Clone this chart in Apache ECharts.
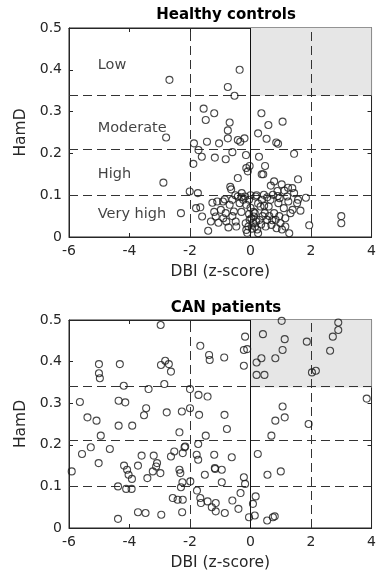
<!DOCTYPE html>
<html>
<head>
<meta charset="utf-8">
<script src="https://cdn.jsdelivr.net/npm/echarts@6/dist/echarts.min.js"></script>
<style>
  html, body { margin: 0; padding: 0; background: #fff; }
  #chart { width: 379px; height: 581px; }
</style>
</head>
<body>
<div id="chart"></div>
<script>
// HamD vs DBI, two panels
const panelTitles = ["Healthy controls", "CAN patients"];
const xTicks = [-6, 4, 2];      // min, max, interval
const yTicks = [0, 0.5, 0.1];
const hamdCuts = [0.102, 0.207, 0.338];
const dbiCuts = [-2, 2];
const shadeBox = [0, 0.338, 4, 0.5];
const zoneNames = ["Low", "Moderate", "High", "Very high"];
const zoneY = [0.41, 0.26, 0.15, 0.055];
const zoneX = -5.05;

const healthy = [
  [-2.68, 0.376], [-0.36, 0.40], [-0.75, 0.359], [-0.53, 0.338], [-1.55, 0.307],
  [-1.48, 0.28], [-1.2, 0.296], [-0.69, 0.274], [-2.79, 0.238], [-0.75, 0.255],
  [-0.75, 0.236], [-0.42, 0.232], [-0.34, 0.228], [-0.2, 0.236], [-1.87, 0.224],
  [-1.44, 0.228], [-1.04, 0.224], [-1.72, 0.208], [-1.61, 0.192], [-1.18, 0.19],
  [-0.82, 0.186], [-0.6, 0.203], [-0.15, 0.196], [-1.89, 0.175], [-0.42, 0.141],
  [-0.14, 0.165], [-0.03, 0.17], [-0.09, 0.157], [-2.88, 0.13], [0.36, 0.296],
  [0.59, 0.268], [1.06, 0.276], [0.25, 0.248], [0.53, 0.235], [0.85, 0.226],
  [0.91, 0.223], [1.44, 0.199], [0.28, 0.192], [0.48, 0.17], [0.37, 0.15],
  [0.42, 0.15], [1.57, 0.138], [0.78, 0.133], [1.03, 0.126], [1.24, 0.118],
  [1.38, 0.117], [0.67, 0.123], [0.89, 0.11], [1.12, 0.111], [3.0, 0.05],
  [3.0, 0.033], [1.94, 0.028], [1.83, 0.094], [1.65, 0.063], [1.57, 0.089],
  [1.54, 0.081], [-2.3, 0.057], [-2.01, 0.109], [-1.74, 0.105], [-1.8, 0.069],
  [-1.66, 0.071], [-1.6, 0.049], [-1.4, 0.015], [-1.31, 0.037], [-1.26, 0.082],
  [-1.15, 0.049], [-1.06, 0.034], [-0.98, 0.065], [-0.91, 0.085], [-0.82, 0.057],
  [-0.8, 0.037], [-0.73, 0.023], [-0.69, 0.077], [-0.67, 0.12], [-0.64, 0.114],
  [-0.6, 0.089], [-0.55, 0.061], [-0.49, 0.037], [-0.47, 0.025], [-0.42, 0.097],
  [-0.36, 0.081], [-0.29, 0.105], [-0.24, 0.089], [-0.18, 0.097], [-0.14, 0.077],
  [-0.16, 0.033], [-0.14, 0.017], [-0.11, 0.01], [-0.07, 0.025], [-0.03, 0.041],
  [0.03, 0.045], [0.08, 0.033], [0.11, 0.049], [0.14, 0.057], [0.17, 0.097],
  [0.19, 0.037], [0.22, 0.018], [0.25, 0.009], [0.3, 0.041], [0.33, 0.073],
  [0.38, 0.089], [0.44, 0.101], [0.47, 0.057], [0.5, 0.025], [0.55, 0.041],
  [0.6, 0.073], [0.66, 0.089], [0.69, 0.029], [0.74, 0.101], [0.78, 0.057],
  [0.83, 0.041], [0.86, 0.021], [0.92, 0.081], [0.96, 0.093], [0.99, 0.033],
  [1.04, 0.018], [1.1, 0.069], [1.15, 0.045], [1.21, 0.097], [1.28, 0.009],
  [1.32, 0.057], [1.39, 0.065], [1.44, 0.105], [-0.05, 0.089], [-1.1, 0.085],
  [-0.85, 0.09], [-0.5, 0.1], [-0.3, 0.095], [0.0, 0.1], [0.2, 0.1],
  [0.55, 0.095], [0.9, 0.098], [1.25, 0.085], [-1.2, 0.06], [-0.9, 0.045],
  [-0.6, 0.05], [0.05, 0.02], [0.1, 0.06], [0.35, 0.03], [0.4, 0.05],
  [0.62, 0.05], [0.72, 0.04], [0.95, 0.05], [1.15, 0.025], [-0.3, 0.06],
  [0.0, 0.07], [0.25, 0.08], [-0.05, 0.055], [0.15, 0.025], [0.45, 0.075]
];

const patients = [
  [-2.97, 0.488], [1.03, 0.498], [2.9, 0.494], [2.9, 0.476], [-1.66, 0.438],
  [-1.37, 0.416], [-1.35, 0.404], [-0.87, 0.41], [-0.18, 0.46], [-0.22, 0.428],
  [-0.11, 0.43], [-0.22, 0.39], [0.41, 0.466], [1.13, 0.454], [1.06, 0.428],
  [1.86, 0.448], [2.72, 0.46], [2.63, 0.426], [0.2, 0.398], [0.36, 0.408],
  [0.82, 0.408], [0.2, 0.368], [0.46, 0.368], [2.03, 0.374], [2.16, 0.378],
  [-5.01, 0.394], [-5.01, 0.372], [-4.98, 0.36], [-4.32, 0.394], [-4.19, 0.342],
  [-3.37, 0.334], [-2.96, 0.392], [-2.82, 0.402], [-2.7, 0.394], [-2.63, 0.376],
  [-2.85, 0.346], [-2.0, 0.334], [3.84, 0.311], [-5.64, 0.303], [-4.36, 0.306],
  [-4.14, 0.302], [-3.45, 0.288], [-3.52, 0.271], [-5.39, 0.266], [-5.09, 0.258],
  [-4.36, 0.246], [-3.91, 0.246], [-4.95, 0.222], [-2.77, 0.278], [-2.27, 0.28],
  [-2.0, 0.288], [-1.72, 0.32], [-1.42, 0.316], [-1.7, 0.272], [-0.86, 0.272],
  [-0.78, 0.238], [-2.35, 0.23], [-1.48, 0.222], [1.06, 0.292], [1.13, 0.266],
  [0.82, 0.258], [1.92, 0.25], [0.69, 0.222], [-5.91, 0.136], [-5.57, 0.178],
  [-5.28, 0.194], [-5.02, 0.156], [-4.65, 0.19], [-4.18, 0.15], [-4.08, 0.14],
  [-4.03, 0.128], [-3.92, 0.118], [-3.72, 0.15], [-3.6, 0.174], [-3.41, 0.12],
  [-3.23, 0.136], [-3.2, 0.174], [-3.09, 0.156], [-3.12, 0.148], [-2.98, 0.132],
  [-2.63, 0.172], [-2.52, 0.184], [-2.16, 0.196], [-2.18, 0.194], [-2.24, 0.18],
  [-2.35, 0.14], [-2.32, 0.132], [-1.73, 0.202], [-1.78, 0.176], [-1.73, 0.164],
  [-1.2, 0.176], [-1.51, 0.128], [-1.18, 0.144], [-1.17, 0.142], [-0.62, 0.17],
  [-0.95, 0.14], [-0.95, 0.11], [-0.22, 0.122], [-0.18, 0.106], [0.24, 0.178],
  [0.56, 0.128], [1.0, 0.136], [-4.38, 0.1], [-4.11, 0.094], [-3.93, 0.094],
  [-2.3, 0.098], [-2.25, 0.11], [-1.99, 0.112], [-1.77, 0.09], [-2.57, 0.072],
  [-2.41, 0.068], [-2.24, 0.068], [-1.66, 0.072], [-1.64, 0.06], [-1.42, 0.064],
  [-1.28, 0.05], [-1.15, 0.06], [-1.15, 0.04], [-0.85, 0.036], [-0.6, 0.066],
  [-0.4, 0.046], [-0.33, 0.084], [-0.05, 0.026], [0.08, 0.058], [0.17, 0.076],
  [0.14, 0.03], [0.55, 0.018], [0.74, 0.026], [0.8, 0.028], [-4.38, 0.022],
  [-3.72, 0.038], [-3.47, 0.036], [-2.95, 0.032], [-2.26, 0.038]
];

const font = "'DejaVu Sans', 'Liberation Sans', Arial, sans-serif";
const ink = "#262626";
const grids = [
  { left: 69, top: 28, width: 304, height: 209 },
  { left: 69, top: 320, width: 304, height: 208 }
];

function valueAxis(range, gi, pos, withLabels, name, nameGap) {
  return {
    type: "value", gridIndex: gi, position: pos,
    min: range[0], max: range[1], interval: range[2],
    name: withLabels ? name : "", nameLocation: "middle", nameGap: nameGap,
    nameTextStyle: { color: ink, fontSize: 15.5, fontFamily: font },
    axisLine: { show: true, onZero: false, lineStyle: { color: ink, width: 1 } },
    axisTick: { show: true, inside: true, length: 4, lineStyle: { color: ink } },
    axisLabel: {
      show: withLabels, color: ink, fontSize: 14, fontFamily: font, margin: 7,
      formatter: v => (Math.abs(v) < 1e-9 ? "0" : String(+v.toFixed(1)))
    },
    splitLine: { show: false }
  };
}

const xAxes = [], yAxes = [], series = [];
const dash = { type: [9, 5], color: "#333", width: 1 };
[healthy, patients].forEach((pts, gi) => {
  xAxes.push(valueAxis(xTicks, gi, "bottom", true, "DBI (z-score)", 27));
  xAxes.push(valueAxis(xTicks, gi, "top", false));
  yAxes.push(valueAxis(yTicks, gi, "left", true, "HamD", 35));
  yAxes.push(valueAxis(yTicks, gi, "right", false));
  const xi = gi * 2, yi = gi * 2;
  const lines = dbiCuts.map(v => ({ xAxis: v }))
    .concat(hamdCuts.map(v => ({ yAxis: v })))
    .concat([{ xAxis: 0, lineStyle: { type: "solid", color: "#111", width: 1 } }]);
  series.push({
    type: "scatter", xAxisIndex: xi, yAxisIndex: yi, data: [],
    silent: true,
    markArea: {
      silent: true,
      itemStyle: { color: "#e6e6e6" },
      data: [[{ coord: [shadeBox[0], shadeBox[3]] }, { coord: [shadeBox[2], shadeBox[1]] }]]
    },
    markLine: {
      silent: true, symbol: "none", animation: false,
      label: { show: false }, lineStyle: dash, data: lines
    }
  });
  series.push({
    type: "scatter", xAxisIndex: xi, yAxisIndex: yi, data: pts,
    symbol: "circle", symbolSize: 7, z: 6,
    itemStyle: { color: "rgba(0,0,0,0)", borderColor: "#1a1a1a", borderWidth: 1.1 }
  });
});

// zone labels (top panel only)
series.push({
  type: "scatter", xAxisIndex: 0, yAxisIndex: 0, symbolSize: 0, z: 7,
  data: zoneNames.map((n, i) => ({ value: [zoneX, zoneY[i]], name: n })),
  label: {
    show: true, position: "right", distance: 0, formatter: "{b}",
    color: "#111", fontSize: 14.5, fontFamily: font
  }
});

const chart = echarts.init(document.getElementById("chart"), null, { renderer: "canvas" });
chart.setOption({
  animation: false,
  backgroundColor: "#fff",
  title: panelTitles.map((t, i) => ({
    text: t, left: 221, top: i === 0 ? 3 : 296, textAlign: "center",
    textStyle: { color: "#000", fontSize: 15, fontWeight: "bold", fontFamily: font }
  })),
  grid: grids.map(g => Object.assign({ show: true, borderColor: ink, borderWidth: 1, backgroundColor: "#fff" }, g)),
  xAxis: xAxes,
  yAxis: yAxes,
  series: series
});
</script>
</body>
</html>
